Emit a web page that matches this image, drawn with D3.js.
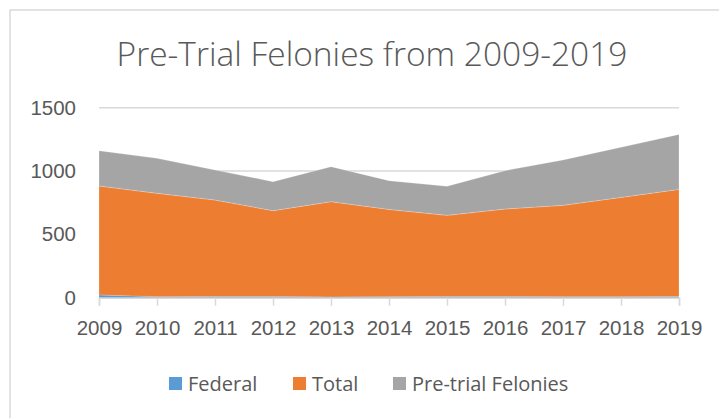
<!DOCTYPE html>
<html>
<head>
<meta charset="utf-8">
<script src="https://cdn.jsdelivr.net/npm/d3@7/dist/d3.min.js"></script>
<style>
  html, body { margin: 0; padding: 0; background: #fff; }
  svg { display: block; font-family: "Open Sans", sans-serif; }
</style>
</head>
<body>
<svg id="chart" width="719" height="418"></svg>
<script>
const years = [2009, 2010, 2011, 2012, 2013, 2014, 2015, 2016, 2017, 2018, 2019];
const federal = [22, 8, 10, 10, 6, 8, 10, 10, 8, 8, 10];
const total = [860, 816, 761, 677, 752, 689, 640, 690, 721, 784, 845];
const pretrialFelonies = [278, 276, 237, 229, 276, 227, 229, 303, 358, 395, 434];
const seriesNames = ["Federal", "Total", "Pre-trial Felonies"];
const seriesColors = ["#5B9BD5", "#ED7D31", "#A5A5A5"];
const yTicks = [0, 500, 1000, 1500];
const titleText = "Pre-Trial Felonies from 2009-2019";

const svg = d3.select("#chart");
const textColor = "#595959";

// chart border
svg.append("path")
  .attr("d", "M10,430 V10 H730")
  .attr("fill", "none")
  .attr("stroke", "#d9d9d9")
  .attr("stroke-width", 1.5);

const rows = years.map((y, i) => ({
  year: y,
  "Federal": federal[i],
  "Total": total[i],
  "Pre-trial Felonies": pretrialFelonies[i]
}));

const x = d3.scaleLinear().domain([years[0], years[years.length - 1]]).range([99, 679]);
const y = d3.scaleLinear().domain([0, 1500]).range([297.7, 107.7]);

// gridlines
svg.append("g")
  .selectAll("line")
  .data(yTicks.filter(d => d > 0))
  .join("line")
  .attr("x1", 99).attr("x2", 679)
  .attr("y1", d => y(d)).attr("y2", d => y(d))
  .attr("stroke", "#d9d9d9").attr("stroke-width", 1.5);

// stacked areas
const stack = d3.stack().keys(seriesNames);
const stacked = stack(rows);
const area = d3.area()
  .x(d => x(d.data.year))
  .y0(d => y(d[0]))
  .y1(d => y(d[1]));

svg.append("g")
  .selectAll("path")
  .data(stacked)
  .join("path")
  .attr("d", area)
  .attr("fill", (d, i) => seriesColors[i])
  .attr("stroke", (d, i) => i === 0 ? "none" : "rgba(255,255,255,0.35)")
  .attr("stroke-width", 0.6);

// x axis
const xAxis = d3.axisBottom(x)
  .tickValues(years)
  .tickFormat(d3.format("d"))
  .tickSize(8)
  .tickPadding(15);
const gx = svg.append("g")
  .attr("transform", `translate(0,${y(0)})`)
  .call(xAxis);
gx.select(".domain").attr("stroke", "#d9d9d9").attr("stroke-width", 1.5);
gx.selectAll(".tick line").attr("stroke", "#d9d9d9").attr("stroke-width", 1.5);
gx.selectAll(".tick text")
  .attr("fill", textColor)
  .attr("font-size", "20.5px")
  .attr("dy", "0.71em");

// y axis labels
const yAxis = d3.axisLeft(y).tickValues(yTicks).tickFormat(d3.format("d")).tickSize(0).tickPadding(0);
const gy = svg.append("g")
  .attr("transform", "translate(76,0)")
  .call(yAxis);
gy.select(".domain").remove();
gy.selectAll(".tick text")
  .attr("fill", textColor)
  .attr("font-size", "20.5px");

// title
const title = svg.append("text")
  .attr("x", 372)
  .attr("y", 66)
  .attr("text-anchor", "middle")
  .attr("fill", textColor)
  .attr("font-weight", 300)
  .attr("font-size", "30px")
  .text(titleText);
const tw = title.node().getComputedTextLength();
title.attr("font-size", (30 * 511 / tw) + "px");

// legend
const legendX = [169, 293, 393];
const legend = svg.append("g");
seriesNames.forEach((name, i) => {
  legend.append("rect")
    .attr("x", legendX[i]).attr("y", 377)
    .attr("width", 13).attr("height", 13)
    .attr("fill", seriesColors[i]);
  legend.append("text")
    .attr("x", legendX[i] + 19)
    .attr("y", 383.5)
    .attr("dy", "0.35em")
    .attr("fill", textColor)
    .attr("font-size", "20px")
    .text(name);
});
</script>
</body>
</html>
